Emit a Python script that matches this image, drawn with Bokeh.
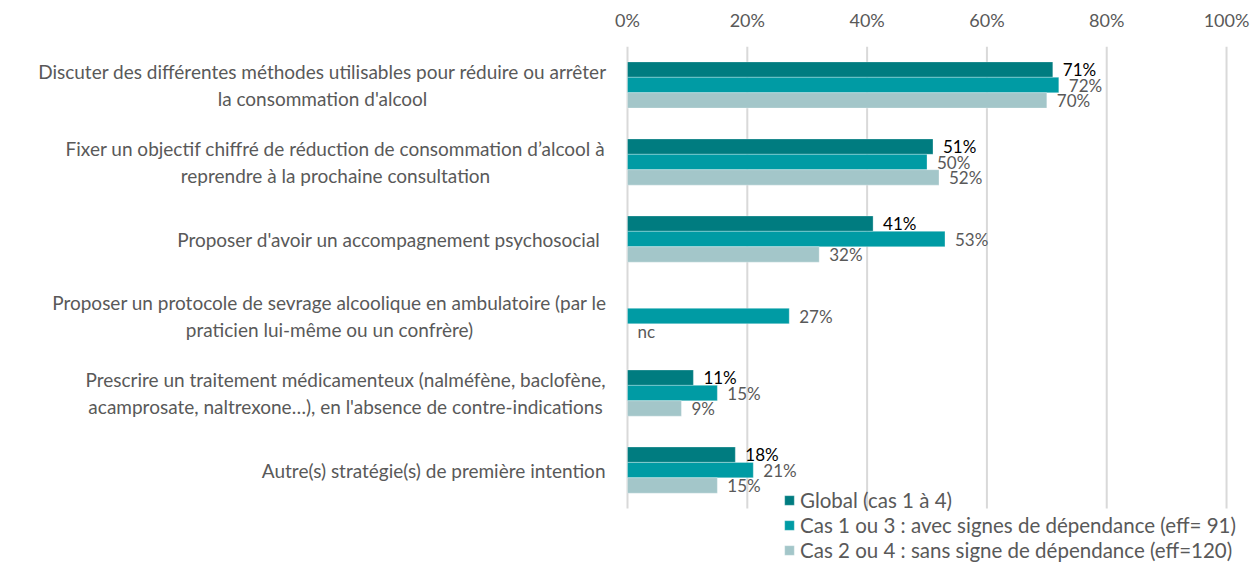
from bokeh.plotting import figure
from bokeh.models import (ColumnDataSource, Range1d, LabelSet,
                          Legend, LegendItem, PrintfTickFormatter, FixedTicker)
from bokeh.core.properties import value
from bokeh.transform import dodge
from bokeh.embed import file_html
from bokeh.resources import INLINE

# ---------------- data ----------------
categories = [
    "Discuter des différentes méthodes utilisables pour réduire ou arrêter\nla consommation d'alcool",
    "Fixer un objectif chiffré de réduction de consommation d’alcool à\nreprendre à la prochaine consultation",
    "Proposer d'avoir un accompagnement psychosocial ",
    "Proposer un protocole de sevrage alcoolique en ambulatoire (par le\npraticien lui-même ou un confrère)",
    "Prescrire un traitement médicamenteux (nalméfène, baclofène,\nacamprosate, naltrexone…), en l'absence de contre-indications",
    "Autre(s) stratégie(s) de première intention",
]
series_names = [
    "Global (cas 1 à 4)",
    "Cas 1 ou 3 : avec signes de dépendance (eff= 91)",
    "Cas 2 ou 4 : sans signe de dépendance (eff=120)",
]
global_vals = [71, 51, 41, None, 11, 18]
cas13_vals = [72, 50, 53, 27, 15, 21]
cas24_vals = [70, 52, 32, None, 9, 15]
missing_text = ["", "", "nc"]
x_ticks = [0, 20, 40, 60, 80, 100]

# ---------------- style ----------------
FONT = "Lato"
GREY = "#595959"
colors = ["#007C80", "#009BA4", "#A3C6C9"]
label_colors = ["#000000", GREY, GREY]
offsets = [-0.2, 0.0, 0.2]          # bar offsets inside a category (index 0 at top)
cat_label_dx = [-305, -292, -22, -298, -282, -22]   # px from the 0% line
cat_label_align = ["center", "center", "right", "center", "center", "right"]

W, H = 1254, 562
n = len(categories)
ypos = list(range(n))

p = figure(width=W, height=H, output_backend="svg", toolbar_location=None,
           title=None,
           x_range=Range1d(-104.67, 104.67), y_range=Range1d(n + 0.2, -0.5),
           x_axis_location="above",
           min_border=0, min_border_left=0, min_border_right=0,
           min_border_top=46, min_border_bottom=0)
p.outline_line_color = None
p.background_fill_color = "white"
p.border_fill_color = "white"

p.yaxis.visible = False
p.xgrid.visible = False
p.ygrid.visible = False
p.xaxis.ticker = FixedTicker(ticks=x_ticks)
p.xaxis.formatter = PrintfTickFormatter(format="%d%%")
p.xaxis.axis_line_color = None
p.xaxis.major_tick_line_color = None
p.xaxis.minor_tick_line_color = None
p.xaxis.major_tick_out = 0
p.xaxis.minor_tick_out = 0
p.xaxis.major_label_text_font = FONT
p.xaxis.major_label_text_font_size = "18px"
p.xaxis.major_label_text_color = GREY
p.xaxis.major_label_standoff = 16

# vertical grid lines at the tick values, spanning the category band
grid_src = ColumnDataSource(dict(x=x_ticks))
p.segment(x0="x", x1="x", y0=-0.5, y1=n - 0.5, source=grid_src,
          line_color="#D9D9D9", line_width=2)

renderers = []
for vals, name, col, lcol, off, miss in zip(
        [global_vals, cas13_vals, cas24_vals], series_names, colors, label_colors, offsets, missing_text):
    v = [float("nan") if x is None else x for x in vals]
    lx = [0 if x is None else x for x in vals]
    txt = [miss if x is None else f"{x}%" for x in vals]
    src = ColumnDataSource(dict(y=ypos, val=v, lx=lx, txt=txt))
    r = p.hbar(y=dodge("y", off), right="val", left=0, height=0.2,
               source=src, fill_color=col, line_color="white", line_width=0.6, line_alpha=0.5)
    renderers.append(r)
    p.add_layout(LabelSet(x="lx", y=dodge("y", off), text="txt", source=src,
                          x_offset=10, text_baseline="middle", text_align="left",
                          text_font=value(FONT), text_font_size="17px", text_color=lcol))

cat_src = ColumnDataSource(dict(x=[0] * n, y=ypos, t=categories,
                                dx=cat_label_dx, al=cat_label_align))
p.text(x="x", y="y", text="t", x_offset="dx", text_align="al", source=cat_src,
       text_baseline="middle", text_font=value(FONT), text_font_size="19px",
       text_line_height=1.15, text_color=GREY)

legend = Legend(items=[LegendItem(label=s, renderers=[r]) for s, r in zip(series_names, renderers)],
                location=(783, 0), orientation="vertical",
                padding=0, margin=0, spacing=0, label_height=25, glyph_height=12, glyph_width=12,
                label_standoff=5, border_line_color=None, background_fill_alpha=0,
                label_text_font=FONT, label_text_font_size="20.5px", label_text_color=GREY)
p.add_layout(legend, "center")

open("out.html", "w").write(file_html(p, INLINE))
